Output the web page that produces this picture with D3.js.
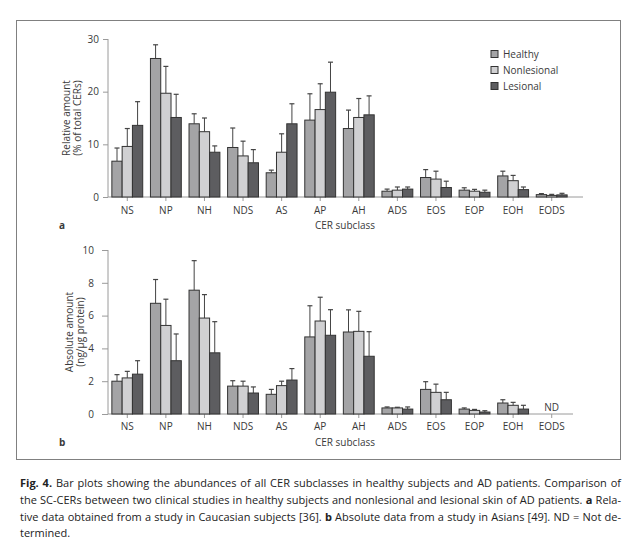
<html>
<head>
  <meta charset="utf-8">
  <title>CER subclasses</title>
  <script src="https://d3js.org/d3.v7.min.js"></script>
  <style>
    body { margin: 0; background: #fff; }
    text { font-family: 'Open Sans', 'Noto Sans', sans-serif; fill: #3a3a3a; }
    .tick text { font-size: 10px; }
    .axis path, .axis line { stroke: #9a9a9a; }
    .caption { font-size: 11px; fill: #222; }
  </style>
</head>
<body>
  <svg id="fig" width="640" height="548"></svg>
  <script>
    // categories and series
    const categories = ["NS", "NP", "NH", "NDS", "AS", "AP", "AH", "ADS", "EOS", "EOP", "EOH", "EODS"];
    const groups = ["Healthy", "Nonlesional", "Lesional"];

    // panel a: relative amount (% of total CERs), mean and upper SD
    const relHealthy = [6.8, 26.3, 13.9, 9.4, 4.6, 14.6, 13.0, 1.1, 3.7, 1.3, 4.0, 0.45];
    const relHealthyErr = [2.5, 2.6, 1.9, 3.7, 0.5, 5.0, 3.5, 0.4, 1.5, 0.45, 0.9, 0.2];
    const relNonles = [9.6, 19.7, 12.4, 7.8, 8.5, 16.6, 15.1, 1.3, 3.4, 1.1, 3.1, 0.3];
    const relNonlesErr = [3.4, 5.1, 2.6, 2.8, 3.5, 4.9, 3.6, 0.6, 1.5, 0.35, 1.0, 0.2];
    const relLes = [13.6, 15.1, 8.5, 6.5, 13.9, 19.9, 15.6, 1.5, 1.8, 0.9, 1.4, 0.4];
    const relLesErr = [4.5, 4.4, 1.2, 2.5, 3.8, 5.7, 3.6, 0.4, 1.2, 0.4, 0.5, 0.3];

    // panel b: absolute amount (ng/µg protein); EODS not determined
    const absHealthy = [2.0, 6.75, 7.55, 1.7, 1.2, 4.7, 5.0, 0.37, 1.5, 0.3, 0.67, null];
    const absHealthyErr = [0.4, 1.45, 1.8, 0.33, 0.3, 1.9, 1.35, 0.06, 0.47, 0.07, 0.2, null];
    const absNonles = [2.2, 5.4, 5.85, 1.7, 1.73, 5.67, 5.04, 0.37, 1.32, 0.22, 0.53, null];
    const absNonlesErr = [0.4, 1.6, 1.43, 0.3, 0.27, 1.45, 1.22, 0.04, 0.5, 0.06, 0.18, null];
    const absLes = [2.43, 3.25, 3.73, 1.28, 2.07, 4.8, 3.52, 0.3, 0.87, 0.12, 0.3, null];
    const absLesErr = [0.82, 1.63, 1.9, 0.37, 0.7, 1.56, 1.5, 0.13, 0.45, 0.08, 0.23, null];

    const relTicks = [0, 10, 20, 30];
    const absTicks = [0, 2, 4, 6, 8, 10];

    const captionLines = [
      [["Fig. 4.", true], [" Bar plots showing the abundances of all CER subclasses in healthy subjects and AD patients. Comparison of", false]],
      [["the SC-CERs between two clinical studies in healthy subjects and nonlesional and lesional skin of AD patients. ", false], ["a", true], [" Rela-", false]],
      [["tive data obtained from a study in Caucasian subjects [36]. ", false], ["b", true], [" Absolute data from a study in Asians [49]. ND = Not de-", false]],
      [["termined.", false]]
    ];

    const svg = d3.select("svg#fig");
    const color = d3.scaleOrdinal().domain(groups).range(["#a4a4a6", "#d0d0d2", "#5d5d60"]);

    // frame around the figure
    svg.append("rect")
      .attr("x", 16.5).attr("y", 20.5)
      .attr("width", 604).attr("height", 439)
      .attr("fill", "none").attr("stroke", "#808080");

    const xScale = d3.scaleBand()
      .domain(categories)
      .range([108, 571])
      .paddingInner(0.2)
      .paddingOuter(0.1);
    const inner = d3.scaleBand()
      .domain(groups)
      .range([0, xScale.bandwidth()]);

    function drawPanel(opts) {
      const y = d3.scaleLinear().domain([0, opts.max]).range([opts.bottom, opts.top]);
      const g = svg.append("g");

      // y axis
      const yAx = g.append("g")
        .attr("class", "axis")
        .attr("transform", "translate(108,0)")
        .call(d3.axisLeft(y).tickValues(opts.ticks).tickSize(opts.tickLen).tickSizeOuter(0).tickPadding(opts.tickPad));
      yAx.select(".domain").attr("d", "M0," + y(opts.max) + "V" + y(0));

      // x axis
      const xAx = g.append("g")
        .attr("class", "axis")
        .attr("transform", "translate(0," + opts.bottom + ")")
        .call(d3.axisBottom(xScale).tickSize(4).tickSizeOuter(0).tickPadding(opts.xPad));
      xAx.select(".domain").attr("d", "M108,0H" + opts.axisEnd);

      const rows = [];
      categories.forEach((c, i) => {
        groups.forEach((s, j) => {
          const v = opts.values[j][i];
          if (v == null) return;
          rows.push({ cat: c, group: s, value: v, err: opts.errors[j][i] });
        });
      });

      // error bars (upper only)
      const eb = g.selectAll(".err").data(rows).enter().append("g").attr("class", "err");
      eb.append("line")
        .attr("x1", d => xScale(d.cat) + inner(d.group) + inner.bandwidth() / 2)
        .attr("x2", d => xScale(d.cat) + inner(d.group) + inner.bandwidth() / 2)
        .attr("y1", d => y(d.value))
        .attr("y2", d => y(d.value + d.err))
        .attr("stroke", "#444").attr("stroke-width", 1);
      eb.append("line")
        .attr("x1", d => xScale(d.cat) + inner(d.group) + inner.bandwidth() / 2 - 2.5)
        .attr("x2", d => xScale(d.cat) + inner(d.group) + inner.bandwidth() / 2 + 2.5)
        .attr("y1", d => y(d.value + d.err))
        .attr("y2", d => y(d.value + d.err))
        .attr("stroke", "#444").attr("stroke-width", 1.2);

      // bars
      g.selectAll(".bar").data(rows).enter().append("rect")
        .attr("class", "bar")
        .attr("x", d => xScale(d.cat) + inner(d.group))
        .attr("y", d => y(d.value))
        .attr("width", inner.bandwidth())
        .attr("height", d => y(0) - y(d.value))
        .attr("fill", d => color(d.group))
        .attr("stroke", "#333").attr("stroke-width", 1);

      // axis titles
      g.append("text")
        .attr("x", 345).attr("y", opts.bottom + 32)
        .attr("text-anchor", "middle").attr("font-size", 10)
        .text("CER subclass");
      const yt = g.append("text")
        .attr("transform", "translate(0," + ((opts.top + opts.bottom) / 2) + ") rotate(-90)")
        .attr("text-anchor", "middle").attr("font-size", 10);
      yt.append("tspan").attr("x", 0).attr("y", opts.titleX[0]).text(opts.title[0]);
      yt.append("tspan").attr("x", 0).attr("y", opts.titleX[1]).text(opts.title[1]);

      // panel letter
      g.append("text")
        .attr("x", 59).attr("y", opts.bottom + 32)
        .attr("font-size", 10).attr("font-weight", "bold")
        .text(opts.letter);
      return { y, g };
    }

    drawPanel({
      values: [relHealthy, relNonles, relLes],
      errors: [relHealthyErr, relNonlesErr, relLesErr],
      max: 30, ticks: relTicks, top: 39, bottom: 197,
      tickLen: 5, tickPad: 4, xPad: 6, axisEnd: 583,
      title: ["Relative amount", "(% of total CERs)"], titleX: [69.5, 80.5],
      letter: "a"
    });

    const pb = drawPanel({
      values: [absHealthy, absNonles, absLes],
      errors: [absHealthyErr, absNonlesErr, absLesErr],
      max: 10, ticks: absTicks, top: 250, bottom: 414,
      tickLen: 6, tickPad: 8, xPad: 5, axisEnd: 573,
      title: ["Absolute amount", "(ng/µg protein)"], titleX: [73, 83.5],
      letter: "b"
    });

    // ND for EODS in panel b
    pb.g.append("text")
      .attr("x", xScale("EODS") + xScale.bandwidth() / 2)
      .attr("y", 411)
      .attr("text-anchor", "middle").attr("font-size", 10)
      .text("ND");

    // legend
    const legend = svg.append("g").attr("transform", "translate(491,54)");
    const li = legend.selectAll("g").data(groups).enter().append("g")
      .attr("transform", (d, i) => "translate(0," + (i * 16) + ")");
    li.append("rect")
      .attr("x", 0).attr("y", -3.5).attr("width", 7).attr("height", 7)
      .attr("fill", d => color(d)).attr("stroke", "#333");
    li.append("text")
      .attr("x", 12).attr("y", 3.6)
      .attr("font-size", 10)
      .text(d => d);

    // caption, justified by word spacing
    const capLeft = 20, capRight = 621;
    captionLines.forEach((parts, i) => {
      const t = svg.append("text")
        .attr("class", "caption")
        .attr("x", capLeft)
        .attr("y", 487 + i * 16.8);
      parts.forEach(p => {
        t.append("tspan").attr("font-weight", p[1] ? "bold" : null).text(p[0]);
      });
      if (i < captionLines.length - 1) {
        const full = parts.map(p => p[0]).join("");
        const spaces = (full.match(/ /g) || []).length;
        const len = t.node().getComputedTextLength();
        t.attr("word-spacing", (capRight - capLeft - len) / spaces);
      }
    });
  </script>
</body>
</html>
